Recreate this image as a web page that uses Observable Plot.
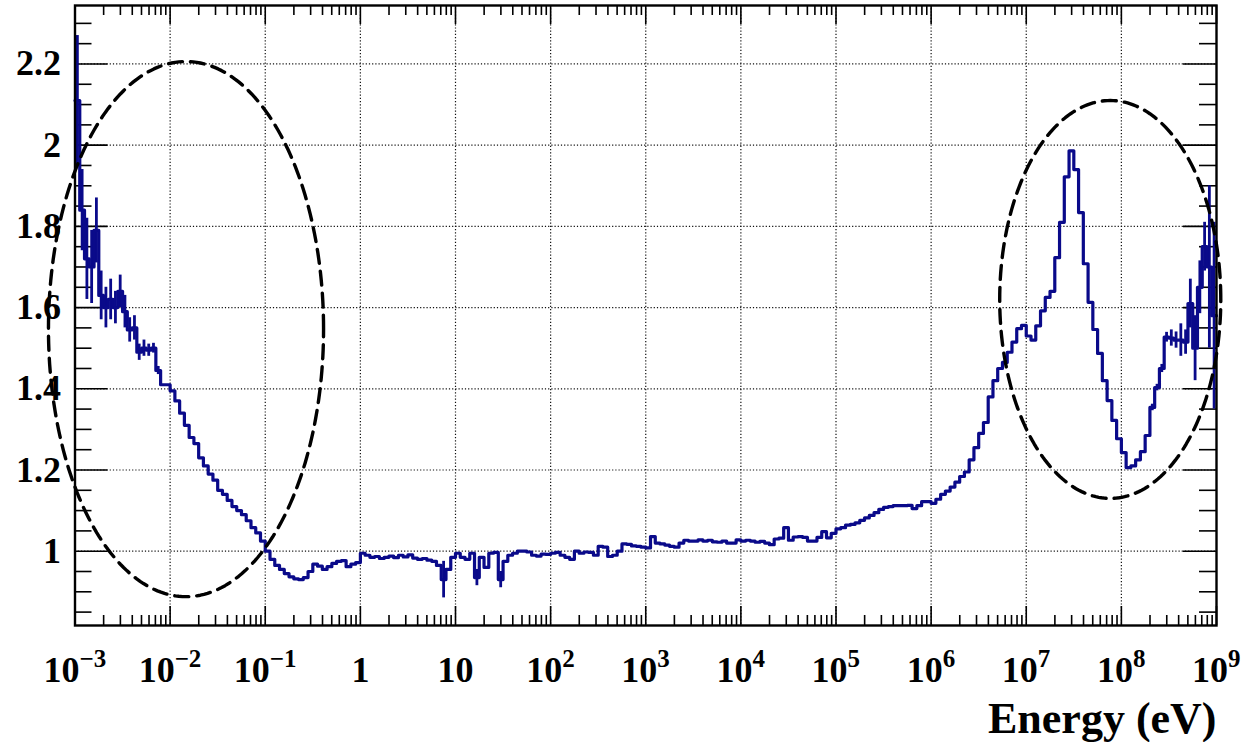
<!DOCTYPE html>
<html>
<head>
<meta charset="utf-8">
<script src="https://cdn.jsdelivr.net/npm/d3@7"></script>
<script src="https://cdn.jsdelivr.net/npm/@observablehq/plot@0.6"></script>
<style>
  html, body { margin: 0; padding: 0; background: #fff; }
  #chart svg { display: block; }
</style>
</head>
<body>
<div id="chart"></div>
<script>
// Histogram binning: 20 logarithmic bins per decade, 1 meV .. 1 GeV
const firstDecade = -3;
const lastDecade = 9;
const binsPerDecade = 20;

// Ratio per energy bin (240 bins, one row per decade)
const ratio = [
  // 1e-3 .. 1e-2
  2.11, 1.84, 1.72, 1.70, 1.79, 1.63, 1.60, 1.62, 1.60, 1.64, 1.59, 1.545, 1.55, 1.49, 1.50, 1.495, 1.50, 1.445, 1.41, 1.41,
  // 1e-2 .. 1e-1
  1.395, 1.37, 1.34, 1.31, 1.28, 1.265, 1.23, 1.21, 1.19, 1.175, 1.15, 1.14, 1.125, 1.11, 1.10, 1.09, 1.075, 1.058, 1.045, 1.025,
  // 1e-1 .. 1
  1.00, 0.98, 0.965, 0.955, 0.945, 0.937, 0.932, 0.93, 0.935, 0.95, 0.968, 0.963, 0.955, 0.962, 0.97, 0.975, 0.977, 0.962, 0.968, 0.972,
  // 1 .. 10
  0.995, 0.99, 0.985, 0.987, 0.982, 0.985, 0.988, 0.984, 0.99, 0.986, 0.991, 0.983, 0.98, 0.982, 0.978, 0.975, 0.965, 0.93, 0.955, 0.985,
  // 10 .. 1e2
  0.995, 0.985, 0.98, 0.995, 0.935, 0.985, 0.96, 0.995, 0.997, 0.93, 0.975, 0.99, 0.995, 1.00, 1.00, 0.998, 0.99, 0.988, 0.993, 0.992,
  // 1e2 .. 1e3
  0.995, 0.997, 0.99, 0.985, 0.98, 1.00, 0.995, 0.998, 0.997, 0.99, 1.012, 1.01, 0.987, 0.99, 1.00, 1.018, 1.017, 1.013, 1.012, 1.01,
  // 1e3 .. 1e4
  1.008, 1.036, 1.02, 1.018, 1.015, 1.012, 1.01, 1.02, 1.027, 1.025, 1.025, 1.028, 1.025, 1.027, 1.023, 1.022, 1.025, 1.02, 1.02, 1.028,
  // 1e4 .. 1e5
  1.025, 1.027, 1.025, 1.022, 1.024, 1.02, 1.016, 1.03, 1.032, 1.058, 1.027, 1.035, 1.036, 1.034, 1.025, 1.025, 1.034, 1.048, 1.033, 1.044,
  // 1e5 .. 1e6
  1.055, 1.058, 1.064, 1.066, 1.07, 1.076, 1.082, 1.088, 1.095, 1.103, 1.108, 1.11, 1.112, 1.112, 1.112, 1.113, 1.105, 1.112, 1.122, 1.122,
  // 1e6 .. 1e7
  1.118, 1.128, 1.14, 1.148, 1.158, 1.17, 1.184, 1.195, 1.225, 1.255, 1.29, 1.317, 1.38, 1.42, 1.45, 1.465, 1.49, 1.515, 1.548, 1.556,
  // 1e7 .. 1e8
  1.53, 1.52, 1.555, 1.592, 1.625, 1.64, 1.723, 1.81, 1.922, 1.986, 1.94, 1.834, 1.708, 1.613, 1.546, 1.487, 1.42, 1.371, 1.322, 1.277,
  // 1e8 .. 1e9
  1.243, 1.206, 1.21, 1.225, 1.245, 1.285, 1.354, 1.403, 1.45, 1.527, 1.525, 1.52, 1.52, 1.515, 1.61, 1.50, 1.65, 1.75, 1.70, 1.58
];

// Statistical uncertainties on the bins where they are visible
const errBins   = [0, 1, 2, 3, 4, 5, 6, 7, 8, 9, 10, 11, 12, 13, 14, 15, 16, 17, 77, 84, 89,
                   226, 227, 228, 229, 230, 231, 232, 233, 234, 235, 236, 237, 238, 239];
const errValues = [0.16, 0.10, 0.10, 0.09, 0.08, 0.06, 0.05, 0.05, 0.04, 0.04, 0.04, 0.03, 0.03, 0.02, 0.02, 0.015, 0.012, 0.01, 0.045, 0.02, 0.02,
                   0.008, 0.008, 0.01, 0.012, 0.02, 0.02, 0.04, 0.03, 0.06, 0.08, 0.065, 0.06, 0.2, 0.23];

// Axis ticks and labels
const xExponents = [-3, -2, -1, 0, 1, 2, 3, 4, 5, 6, 7, 8, 9];
const yTicks = [1.0, 1.2, 1.4, 1.6, 1.8, 2.0, 2.2];
const yTickLabels = ["1", "1.2", "1.4", "1.6", "1.8", "2", "2.2"];
const xTitle = "Energy (eV)";

// Highlighted regions: centre (log10 E, ratio) and half-axes (decades, ratio)
const regionCentreLogE = [-1.833, 7.883];
const regionCentreRatio = [1.547, 1.62];
const regionHalfLogE = [1.446, 1.162];
const regionHalfRatio = [0.659, 0.49];

// ---------------------------------------------------------------------------
const W = 1243, H = 742;
const frameLeft = 74.5, frameRight = 1216, frameTop = 5, frameBottom = 625;
const plotW = frameRight - frameLeft, plotH = frameBottom - frameTop;
const yDomain = [0.817, 2.344];
const navy = "#0a0a8a";
const serif = "'Liberation Serif', 'Times New Roman', Times, serif";

const edge = i => 10 ** (firstDecade + i / binsPerDecade);
const steps = ratio.map((v, i) => ({e: edge(i), v}));
steps.push({e: edge(ratio.length), v: ratio[ratio.length - 1]});

const errors = errBins.map((b, k) => ({
  e: Math.sqrt(edge(b) * edge(b + 1)),
  lo: ratio[b] - errValues[k],
  hi: ratio[b] + errValues[k]
}));

const ellipsePts = [];
regionCentreLogE.forEach((c, id) => {
  const n = 240;
  for (let j = 0; j <= n; j++) {
    const t = (j / n) * 2 * Math.PI;
    ellipsePts.push({
      id,
      e: 10 ** (c + regionHalfLogE[id] * Math.cos(t)),
      v: regionCentreRatio[id] + regionHalfRatio[id] * Math.sin(t)
    });
  }
});

const xMajor = xExponents.map(p => 10 ** p);
const xMinor = [];
for (let p = firstDecade; p < lastDecade; p++) for (let k = 2; k <= 9; k++) xMinor.push(k * 10 ** p);
const yMinor = [];
for (let k = 17; k <= 46; k++) { const y = k * 0.05; if (k % 4 !== 0) yMinor.push(+y.toFixed(2)); }

const xGrid = xMajor.slice(1, -1);

const plainLabels = xExponents.filter(p => p === 0 || p === 1);
const negLabels = xExponents.filter(p => p < 0);
const posLabels = xExponents.filter(p => p > 1);

const baseSize = 36, supSize = 25;
const baseDy = 31, supDy = 24;
const gridStyle = {stroke: "#111", strokeWidth: 1.2, strokeDasharray: "1.2,2"};
const tickStyle = {stroke: "#000", strokeWidth: 1.6};
const labelStyle = {fontWeight: "bold", fontFamily: serif, fill: "#000"};

const chart = Plot.plot({
  width: W,
  height: H,
  marginLeft: frameLeft,
  marginRight: W - frameRight,
  marginTop: frameTop,
  marginBottom: H - frameBottom,
  style: {background: "#fff", overflow: "visible"},
  x: {type: "log", domain: [10 ** firstDecade, 10 ** lastDecade], axis: null},
  y: {domain: yDomain, axis: null},
  marks: [
    // dotted grid
    Plot.ruleX(xGrid, {x: d => d, ...gridStyle}),
    Plot.ruleY(yTicks, {y: d => d, ...gridStyle}),

    // inward ticks on all four sides
    Plot.tickY(yTicks, {y: d => d, insetRight: plotW - 33, ...tickStyle}),
    Plot.tickY(yTicks, {y: d => d, insetLeft: plotW - 33, ...tickStyle}),
    Plot.tickY(yMinor, {y: d => d, insetRight: plotW - 17, ...tickStyle}),
    Plot.tickY(yMinor, {y: d => d, insetLeft: plotW - 17, ...tickStyle}),
    Plot.tickX(xMajor, {x: d => d, insetTop: plotH - 19, ...tickStyle}),
    Plot.tickX(xMajor, {x: d => d, insetBottom: plotH - 19, ...tickStyle}),
    Plot.tickX(xMinor, {x: d => d, insetTop: plotH - 10, ...tickStyle}),
    Plot.tickX(xMinor, {x: d => d, insetBottom: plotH - 10, ...tickStyle}),

    // histogram outline and error bars
    Plot.ruleX(errors, {x: "e", y1: "lo", y2: "hi", stroke: navy, strokeWidth: 2.8}),
    Plot.line(steps, {x: "e", y: "v", curve: "step-after", stroke: navy, strokeWidth: 3.2}),

    // dashed ellipses around the regions of interest
    Plot.line(ellipsePts, {x: "e", y: "v", z: "id", stroke: "#000", strokeWidth: 3.4, strokeDasharray: "14,8"}),

    Plot.frame({stroke: "#000", strokeWidth: 2.4}),

    // y tick labels
    Plot.text(yTicks, {y: d => d, text: (d, i) => yTickLabels[i], frameAnchor: "left", dx: -14,
      textAnchor: "end", lineAnchor: "middle", fontSize: baseSize, ...labelStyle}),

    // x tick labels: 1 and 10
    Plot.text(plainLabels, {x: p => 10 ** p, text: p => String(10 ** p), frameAnchor: "bottom", lineAnchor: "top",
      dy: baseDy, textAnchor: "middle", fontSize: baseSize, ...labelStyle}),
    // x tick labels: 10 with negative exponent
    Plot.text(negLabels, {x: p => 10 ** p, text: () => "10", frameAnchor: "bottom", lineAnchor: "top", dy: baseDy, dx: -31.5,
      textAnchor: "start", fontSize: baseSize, ...labelStyle}),
    Plot.text(negLabels, {x: p => 10 ** p, text: p => "\u2212" + Math.abs(p), frameAnchor: "bottom", lineAnchor: "top", dy: supDy, dx: 4.5,
      textAnchor: "start", fontSize: supSize, ...labelStyle}),
    // x tick labels: 10 with positive exponent
    Plot.text(posLabels, {x: p => 10 ** p, text: () => "10", frameAnchor: "bottom", lineAnchor: "top", dy: baseDy, dx: -24.5,
      textAnchor: "start", fontSize: baseSize, ...labelStyle}),
    Plot.text(posLabels, {x: p => 10 ** p, text: p => String(p), frameAnchor: "bottom", lineAnchor: "top", dy: supDy, dx: 11.5,
      textAnchor: "start", fontSize: supSize, ...labelStyle}),

    // x axis title
    Plot.text([xTitle], {text: d => d, frameAnchor: "bottom-right", lineAnchor: "top", dy: 76, dx: 0,
      textAnchor: "end", fontSize: 44, ...labelStyle})
  ]
});

document.getElementById("chart").append(chart);
</script>
</body>
</html>
